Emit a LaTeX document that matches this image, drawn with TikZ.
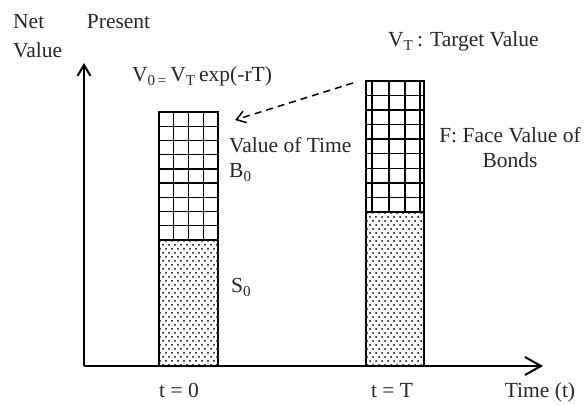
\documentclass[tikz,border=0pt]{standalone}
\usepackage{fontspec}
\setmainfont{Liberation Serif}
\usetikzlibrary{arrows.meta,patterns}

% sparse staggered dots for the lower part of each bar
\pgfdeclarepatternformonly{sparse dots}{\pgfqpoint{-1pt}{-1pt}}{\pgfqpoint{7pt}{9pt}}{\pgfqpoint{6pt}{8pt}}{%
  \pgfpathcircle{\pgfqpoint{1pt}{1pt}}{1pt}%
  \pgfpathcircle{\pgfqpoint{4pt}{5pt}}{1pt}%
  \pgfusepath{fill}}

\tikzset{
  axis/.style={line width=2pt},
  barframe/.style={line width=2pt},
  gridline/.style={line width=1.4pt},
  lbl/.style={inner sep=0pt,text=black!85},
}

\begin{document}
\begin{tikzpicture}[x=1pt,y=1pt,font=\fontsize{21.5}{25}\selectfont]
\useasboundingbox (0,0) rectangle (586,406);
\coordinate (origin) at (84,40);
\coordinate (ytop) at (84,343);
\coordinate (xend) at (543,40);

% bar at t = 0
\fill[pattern=sparse dots] (159,40) rectangle (218,166);
\foreach \gx in {173.75,188.5,203.25} \draw[gridline] (\gx,166) -- (\gx,294);
\foreach \i in {1,...,8} \draw[gridline] (159,166+\i*14.22) -- (218,166+\i*14.22);
\draw[barframe] (159,40) rectangle (218,294);
\draw[barframe] (159,166) -- (218,166);

% bar at t = T
\fill[pattern=sparse dots] (366,40) rectangle (424,194);
\foreach \gx in {372,389,405,420} \draw[gridline] (\gx,194) -- (\gx,325);
\foreach \i in {1,...,8} \draw[gridline] (366,194+\i*14.56) -- (424,194+\i*14.56);
\draw[barframe] (366,40) rectangle (424,325);
\draw[barframe] (366,194) -- (424,194);

% axes
\draw[axis,-{Straight Barb[length=11pt,width=13pt]}] (origin) -- (ytop);
\draw[axis,-{Straight Barb[length=16pt,width=18pt]}] (origin) -- (xend);

% labels
\node[lbl,anchor=north west,align=justify,text width=137pt,font=\fontsize{21.5}{29}\selectfont] (npv) at (13,392) {Net Present Value};
\node[lbl,anchor=base west] (vzerolbl) at (132,324) {V\textsubscript{0\,=}\,V\textsubscript{T}\,exp(-rT)};
\node[lbl,anchor=base west] (vtlbl) at (388,359) {V\textsubscript{T}\,: Target Value};
\node[lbl,anchor=base west,align=left] (btime) at (229,228) {Value of Time\\B\textsubscript{0}};
\node[lbl,anchor=base,align=center] (face) at (510,238) {F: Face Value of\\Bonds};
\node[lbl,anchor=base west] (szero) at (231,113) {S\textsubscript{0}};
\node[lbl,anchor=base] (tzero) at (179,8) {t = 0};
\node[lbl,anchor=base] (tcap) at (392,8) {t = T};
\node[lbl,anchor=base] (time) at (540,8) {Time (t)};

% dashed arrow from target value back to present value
\coordinate (vtstart) at (353,323);
\coordinate (vzeroend) at (235,286);
\draw[line width=1.5pt,dash pattern=on 7pt off 5pt,-{Straight Barb[length=9pt,width=12pt]}] (vtstart) -- (vzeroend);
\end{tikzpicture}
\end{document}
